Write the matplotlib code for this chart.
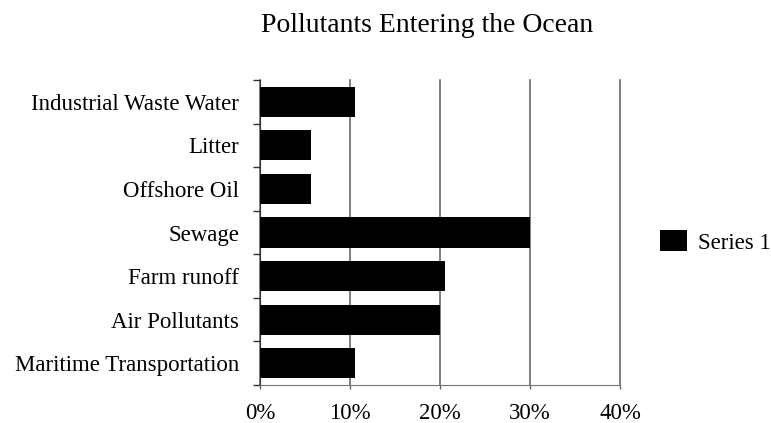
import numpy as np
import matplotlib.pyplot as plt
from matplotlib.ticker import FixedLocator, PercentFormatter

plt.rcParams['font.family'] = ['Liberation Serif', 'DejaVu Serif']

categories = ['Industrial Waste Water', 'Litter', 'Offshore Oil', 'Sewage',
              'Farm runoff', 'Air Pollutants', 'Maritime Transportation']
series1 = [10.6, 5.7, 5.7, 30.0, 20.5, 20.0, 10.6]
x_ticks = [0, 10, 20, 30, 40]

fig = plt.figure(figsize=(7.71, 4.23), dpi=100)
ax = fig.add_axes([0.3372, 0.0898, 0.467, 0.7211])

pos = np.arange(len(categories))
ax.barh(pos, series1, height=0.69, color='black', label='Series 1', zorder=3)

ax.set_ylim(len(categories) - 0.5, -0.5)
ax.set_xlim(0, 40)

# vertical grid lines at the major x ticks
ax.set_xticks(x_ticks)
ax.xaxis.set_major_formatter(PercentFormatter(decimals=0))
ax.grid(axis='x', color='#5a5a5a', linewidth=1.1, zorder=0)
for gl in ax.get_xgridlines():
    gl.set_clip_on(False)
ax.tick_params(axis='x', direction='out', length=3, width=1.0, color='#666666',
               labelsize=16.5, pad=10)

# category labels without ticks, boundary ticks as minor ticks
ax.set_yticks(pos)
ax.set_yticklabels(categories)
ax.yaxis.set_minor_locator(FixedLocator(np.arange(-0.5, len(categories), 1.0)))
ax.tick_params(axis='y', which='major', length=0, labelsize=16.5, pad=15)
ax.tick_params(axis='y', which='minor', direction='out', length=5, width=1.0,
               color='#333333')

for side in ['top', 'right']:
    ax.spines[side].set_visible(False)
ax.spines['left'].set_color('#333333')
ax.spines['bottom'].set_color('#777777')

fig.text(0.5545, 0.94, 'Pollutants Entering the Ocean', ha='center',
         va='center', fontsize=20)

fig.legend(loc='center left', bbox_to_anchor=(0.856, 0.428), frameon=False,
           fontsize=16.5, handlelength=1.2, handleheight=1.0,
           handletextpad=0.45, borderpad=0, borderaxespad=0)

fig.savefig('out.png', dpi=100)
